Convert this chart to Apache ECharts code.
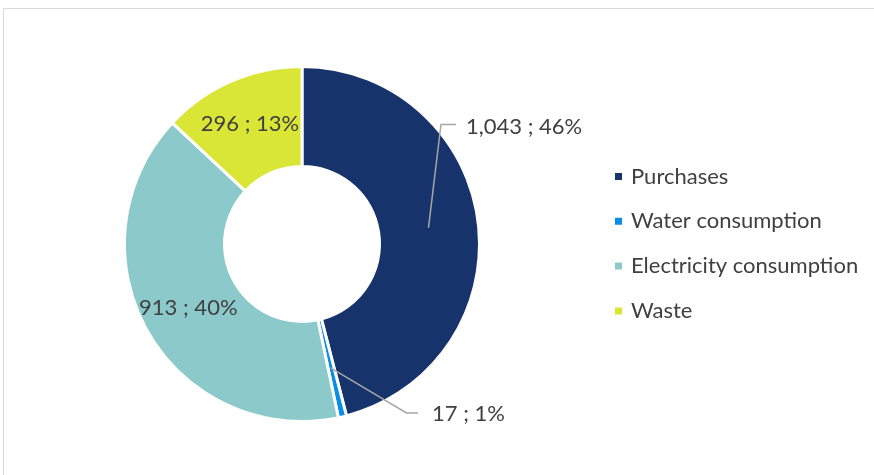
<!DOCTYPE html>
<html>
<head>
<meta charset="utf-8">
<script src="https://cdn.jsdelivr.net/npm/echarts@6/dist/echarts.min.js"></script>
<style>
  html, body { margin: 0; padding: 0; background: #fff; }
  #main { width: 874px; height: 475px; }
</style>
</head>
<body>
<div id="main"></div>
<script>
// data
var categories = ['Purchases', 'Water consumption', 'Electricity consumption', 'Waste'];
var values = [1043, 17, 913, 296];
var percents = ['46%', '1%', '40%', '13%'];
var colors = ['#17336b', '#0b8ce9', '#8cc9cb', '#d9e636'];

var cx = 302, cy = 244, rIn = 77.5, rOut = 177.5;
var rMid = (79 + 176) / 2;
var total = values.reduce(function (a, b) { return a + b; }, 0);

// where a leader line starts: middle of the slice
function midPoint(i) {
    var cum = 0;
    for (var k = 0; k < i; k++) cum += values[k];
    var t = (cum + values[i] / 2) / total * Math.PI * 2;
    return [cx + rMid * Math.sin(t), cy - rMid * Math.cos(t)];
}

function fmt(n) {
    return n.toLocaleString('en-US');
}

var font = 'Lato';
var textColor = '#404040';
var lineStyle = { fill: 'none', stroke: '#a6a6a6', lineWidth: 1.5 };

var pieData = categories.map(function (name, i) {
    var outside = (i === 0 || i === 1);
    return {
        name: name,
        value: values[i],
        itemStyle: { color: colors[i] },
        label: { position: outside ? 'outside' : 'inside' }
    };
});

var chart = echarts.init(document.getElementById('main'));
var option = {
    animation: false,
    graphic: [{
        type: 'rect',
        shape: { x: 3.5, y: 8.5, width: 900, height: 500 },
        style: { fill: 'none', stroke: '#d9d9d9', lineWidth: 1 },
        silent: true
    }, {
        type: 'polyline',
        z: 100,
        shape: { points: [midPoint(0), [441, 124.5], [456, 124.5]] },
        style: lineStyle,
        silent: true
    }, {
        type: 'polyline',
        z: 100,
        shape: { points: [midPoint(1), [406.5, 413], [418, 413]] },
        style: lineStyle,
        silent: true
    }],
    legend: {
        orient: 'vertical',
        left: 613,
        top: 165.5,
        padding: 0,
        icon: 'rect',
        itemWidth: 9,
        itemHeight: 9,
        itemGap: 22.8,
        data: categories,
        textStyle: {
            fontFamily: font,
            fontSize: 22,
            color: textColor,
            lineHeight: 20,
            padding: [0, 0, 0, 3]
        }
    },
    series: [{
        type: 'pie',
        center: [cx, cy],
        radius: [rIn, rOut],
        startAngle: 90,
        clockwise: true,
        avoidLabelOverlap: false,
        itemStyle: { borderColor: '#ffffff', borderWidth: 3 },
        label: {
            fontFamily: font,
            fontSize: 22,
            color: textColor,
            formatter: function (p) {
                return fmt(p.value) + ' ; ' + percents[p.dataIndex];
            }
        },
        labelLine: { show: false },
        labelLayout: function (p) {
            if (p.dataIndex === 0) {
                return { x: 466, y: 127, align: 'left', verticalAlign: 'middle' };
            }
            if (p.dataIndex === 1) {
                return { x: 432, y: 414, align: 'left', verticalAlign: 'middle' };
            }
        },
        emphasis: { disabled: true },
        data: pieData
    }]
};
chart.setOption(option);
</script>
</body>
</html>
